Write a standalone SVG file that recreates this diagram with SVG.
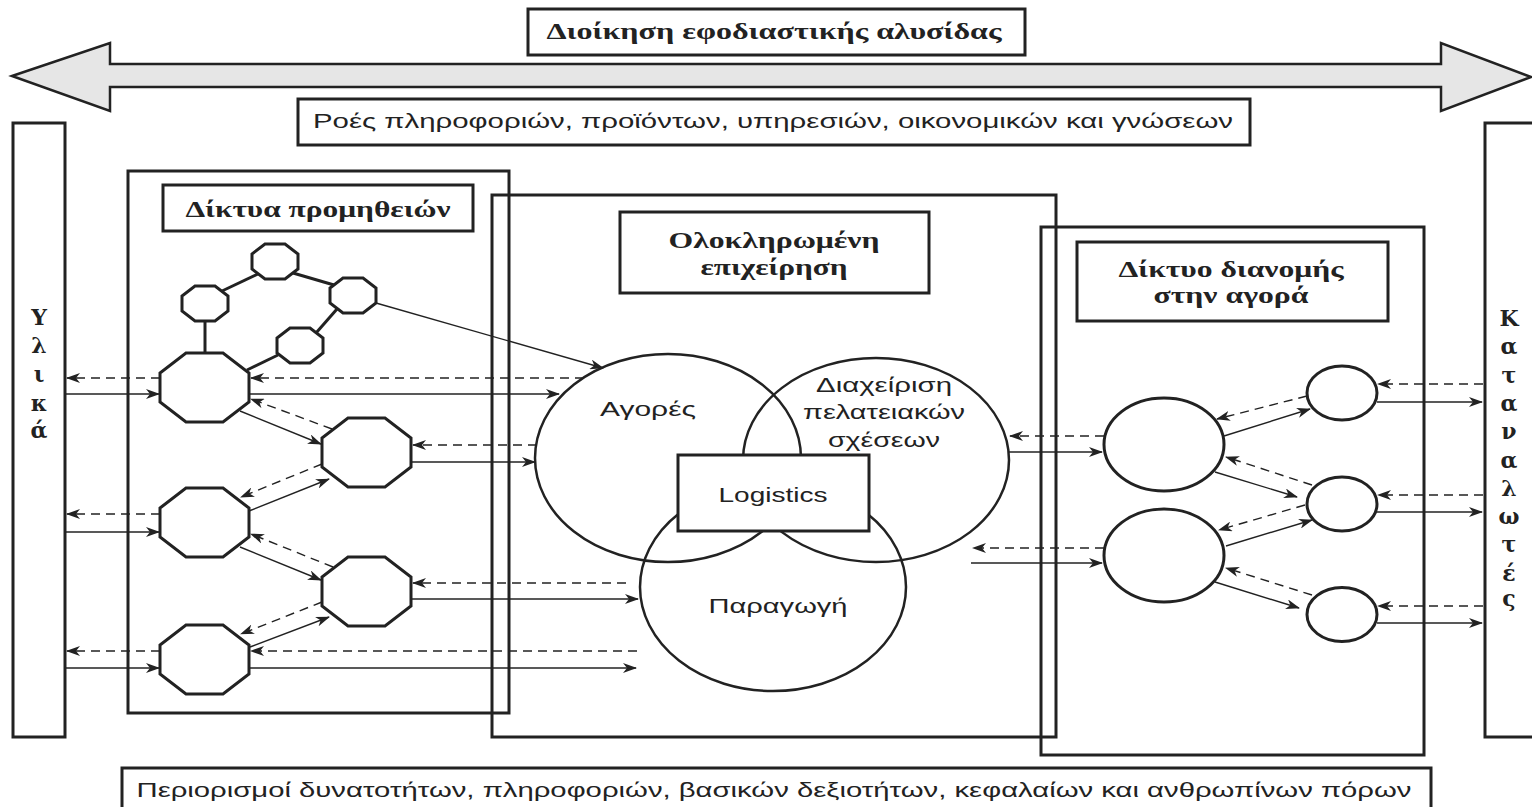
<svg xmlns="http://www.w3.org/2000/svg" width="1532" height="807" viewBox="0 0 1532 807">
  <defs>
    <style>
      .frame { fill: none; stroke: #222; stroke-width: 3; }
      .lbl { fill: #fff; stroke: #222; stroke-width: 3; }
      .node { fill: #fff; stroke: #222; stroke-width: 3; }
      .ring { fill: none; stroke: #222; stroke-width: 2.5; }
      .link { stroke: #222; stroke-width: 3; fill: none; }
      .flow { stroke: #222; stroke-width: 1.4; fill: none; marker-end: url(#ah); }
      .ret { stroke: #222; stroke-width: 1.4; fill: none; stroke-dasharray: 9 6; marker-end: url(#ah); }
      .head { font-family: "Liberation Serif", "DejaVu Serif", serif; font-weight: bold; font-size: 23px; fill: #222; text-anchor: middle; }
      .body { font-family: "Liberation Sans", "Open Sans", sans-serif; font-size: 20px; fill: #222; text-anchor: middle; }
      .vert { font-family: "DejaVu Serif", "Liberation Serif", serif; font-weight: bold; font-size: 22px; fill: #222; text-anchor: middle; }
    </style>
    <marker id="ah" viewBox="0 0 14 10" refX="13" refY="5" markerWidth="14" markerHeight="10" markerUnits="userSpaceOnUse" orient="auto">
      <path d="M0,0 L14,5 L0,10 L4,5 z" fill="#222"/>
    </marker>
  </defs>

  <rect width="1532" height="807" fill="#fff"/>

  <!-- supply chain management banner -->
  <g id="scm-title">
    <rect class="lbl" x="528" y="9" width="497" height="46"/>
    <text class="head" x="774" y="39" textLength="455" lengthAdjust="spacingAndGlyphs">Διοίκηση εφοδιαστικής αλυσίδας</text>
  </g>
  <g id="scm-arrow">
    <polygon points="12,76 110,43 110,64 1441,64 1441,43 1531,77 1441,111 1441,87 110,87 110,111" fill="#e6e6e6" stroke="#222" stroke-width="2.5" stroke-linejoin="miter"/>
  </g>
  <g id="flows-label">
    <rect class="lbl" x="298" y="99" width="952" height="46"/>
    <text class="body" x="773" y="128" textLength="920" lengthAdjust="spacingAndGlyphs">Ροές πληροφοριών, προϊόντων, υπηρεσιών, οικονομικών και γνώσεων</text>
  </g>

  <!-- side columns -->
  <g id="materials">
    <rect class="frame" x="13" y="123" width="52" height="614"/>
    <text class="vert" x="39" y="325">Υ</text>
    <text class="vert" x="39" y="353">λ</text>
    <text class="vert" x="39" y="382">ι</text>
    <text class="vert" x="39" y="411">κ</text>
    <text class="vert" x="39" y="438">ά</text>
  </g>
  <g id="consumers">
    <rect class="frame" x="1485" y="123" width="70" height="614"/>
    <text class="vert" x="1509" y="326">Κ</text>
    <text class="vert" x="1509" y="354">α</text>
    <text class="vert" x="1509" y="383">τ</text>
    <text class="vert" x="1509" y="411">α</text>
    <text class="vert" x="1509" y="439">ν</text>
    <text class="vert" x="1509" y="468">α</text>
    <text class="vert" x="1509" y="496">λ</text>
    <text class="vert" x="1509" y="524">ω</text>
    <text class="vert" x="1509" y="552">τ</text>
    <text class="vert" x="1509" y="581">έ</text>
    <text class="vert" x="1509" y="606">ς</text>
  </g>

  <!-- supplier networks -->
  <g id="supplier-network">
    <rect class="frame" x="128" y="171" width="381" height="542"/>
    <rect class="lbl" x="163" y="185" width="310" height="46"/>
    <text class="head" x="318" y="217" textLength="265" lengthAdjust="spacingAndGlyphs">Δίκτυα προμηθειών</text>
  </g>

  <!-- integrated enterprise -->
  <g id="enterprise">
    <rect class="frame" x="492" y="195" width="564" height="542"/>
    <rect class="lbl" x="620" y="212" width="309" height="81"/>
    <text class="head" x="774" y="248" textLength="211" lengthAdjust="spacingAndGlyphs">Ολοκληρωμένη</text>
    <text class="head" x="774" y="275" textLength="147" lengthAdjust="spacingAndGlyphs">επιχείρηση</text>
  </g>

  <!-- market distribution network -->
  <g id="distribution-network">
    <rect class="frame" x="1041" y="227" width="383" height="528"/>
    <rect class="lbl" x="1077" y="242" width="311" height="79"/>
    <text class="head" x="1231" y="277" textLength="225" lengthAdjust="spacingAndGlyphs">Δίκτυο διανομής</text>
    <text class="head" x="1231" y="303" textLength="155" lengthAdjust="spacingAndGlyphs">στην αγορά</text>
  </g>

  <!-- core functions -->
  <g id="markets">
    <ellipse class="ring" cx="668" cy="458" rx="133" ry="104"/>
    <text class="body" x="648" y="416" font-size="22" textLength="96" lengthAdjust="spacingAndGlyphs">Αγορές</text>
  </g>
  <g id="crm">
    <ellipse class="ring" cx="876" cy="460" rx="133" ry="102"/>
    <text class="body" x="884" y="392" textLength="136" lengthAdjust="spacingAndGlyphs">Διαχείριση</text>
    <text class="body" x="884" y="419" textLength="162" lengthAdjust="spacingAndGlyphs">πελατειακών</text>
    <text class="body" x="884" y="447" textLength="112" lengthAdjust="spacingAndGlyphs">σχέσεων</text>
  </g>
  <g id="production">
    <ellipse class="ring" cx="773" cy="587" rx="133" ry="104"/>
    <text class="body" x="778" y="613" font-size="22" textLength="139" lengthAdjust="spacingAndGlyphs">Παραγωγή</text>
  </g>
  <g id="logistics">
    <rect class="lbl" x="678" y="455" width="191" height="76"/>
    <text class="body" x="773" y="502" font-size="22" textLength="109" lengthAdjust="spacingAndGlyphs">Logistics</text>
  </g>

  <!-- supplier nodes -->
  <g id="sup-ring">
    <line class="link" x1="205" y1="321" x2="205" y2="353"/>
    <line class="link" x1="222" y1="291" x2="258" y2="274"/>
    <line class="link" x1="293" y1="273" x2="334" y2="285"/>
    <line class="link" x1="337" y1="309" x2="316" y2="333"/>
    <line class="link" x1="278" y1="355" x2="247" y2="370"/>
  </g>
  <g id="sup-a"><polygon class="node" points="195,286 215,286 228,296 228,311 215,321 195,321 182,311 182,296"/></g>
  <g id="sup-b"><polygon class="node" points="265,244 285,244 298,254 298,269 285,279 265,279 252,269 252,254"/></g>
  <g id="sup-c"><polygon class="node" points="343,278 363,278 376,288 376,303 363,313 343,313 330,303 330,288"/></g>
  <g id="sup-d"><polygon class="node" points="290,328 310,328 323,338 323,353 310,363 290,363 277,353 277,338"/></g>
  <g id="sup-l1"><polygon class="node" points="186,353 223,353 249,373 249,402 223,422 186,422 160,402 160,373"/></g>
  <g id="sup-m1"><polygon class="node" points="348,418 385,418 411,438 411,467 385,487 348,487 322,467 322,438"/></g>
  <g id="sup-l2"><polygon class="node" points="186,488 223,488 249,508 249,537 223,557 186,557 160,537 160,508"/></g>
  <g id="sup-m2"><polygon class="node" points="348,557 385,557 411,577 411,606 385,626 348,626 322,606 322,577"/></g>
  <g id="sup-l3"><polygon class="node" points="186,625 223,625 249,645 249,674 223,694 186,694 160,674 160,645"/></g>

  <!-- distribution nodes -->
  <g id="dist-d1"><ellipse class="node" cx="1164" cy="444.5" rx="60" ry="46.5" stroke-width="2.5"/></g>
  <g id="dist-d2"><ellipse class="node" cx="1164" cy="555.5" rx="60" ry="46.5" stroke-width="2.5"/></g>
  <g id="dist-s1"><ellipse class="node" cx="1342" cy="393" rx="35" ry="27" stroke-width="2.5"/></g>
  <g id="dist-s2"><ellipse class="node" cx="1342" cy="504" rx="35" ry="27" stroke-width="2.5"/></g>
  <g id="dist-s3"><ellipse class="node" cx="1342" cy="614.5" rx="35" ry="27" stroke-width="2.5"/></g>

  <!-- connectors -->
  <g id="connectors">
    <line class="flow" x1="376" y1="303" x2="603" y2="368"/>

    <line class="ret" x1="160" y1="378" x2="67" y2="378"/>
    <line class="flow" x1="66" y1="394" x2="159" y2="394"/>
    <line class="ret" x1="584" y1="378" x2="251" y2="378"/>
    <line class="flow" x1="249" y1="394" x2="559" y2="394"/>
    <line class="flow" x1="240" y1="411" x2="321" y2="444"/>
    <line class="ret" x1="332" y1="429" x2="251" y2="399"/>
    <line class="ret" x1="537" y1="445" x2="413" y2="445"/>
    <line class="flow" x1="411" y1="462" x2="535" y2="462"/>

    <line class="flow" x1="249" y1="511" x2="329" y2="479"/>
    <line class="ret" x1="322" y1="464" x2="241" y2="497"/>
    <line class="ret" x1="160" y1="514" x2="67" y2="514"/>
    <line class="flow" x1="66" y1="532" x2="159" y2="532"/>
    <line class="flow" x1="240" y1="547" x2="321" y2="580"/>
    <line class="ret" x1="333" y1="567" x2="251" y2="534"/>
    <line class="ret" x1="626" y1="583" x2="413" y2="583"/>
    <line class="flow" x1="411" y1="599" x2="638" y2="599"/>

    <line class="ret" x1="322" y1="602" x2="241" y2="634"/>
    <line class="flow" x1="250" y1="647" x2="329" y2="617"/>
    <line class="ret" x1="160" y1="651" x2="67" y2="651"/>
    <line class="flow" x1="66" y1="668" x2="159" y2="668"/>
    <line class="ret" x1="637" y1="651" x2="251" y2="651"/>
    <line class="flow" x1="249" y1="668" x2="636" y2="668"/>

    <line class="ret" x1="1483" y1="384" x2="1378" y2="384"/>
    <line class="flow" x1="1377" y1="402" x2="1482" y2="402"/>
    <line class="ret" x1="1307" y1="396" x2="1217" y2="419"/>
    <line class="flow" x1="1224" y1="436" x2="1310" y2="409"/>
    <line class="ret" x1="1104" y1="436" x2="1010" y2="436"/>
    <line class="flow" x1="1008" y1="452" x2="1102" y2="452"/>
    <line class="flow" x1="1215" y1="472" x2="1297" y2="497"/>
    <line class="ret" x1="1312" y1="485" x2="1226" y2="457"/>
    <line class="ret" x1="1483" y1="495" x2="1378" y2="495"/>
    <line class="flow" x1="1377" y1="512" x2="1482" y2="512"/>
    <line class="ret" x1="1305" y1="505" x2="1219" y2="530"/>
    <line class="flow" x1="1226" y1="546" x2="1312" y2="520"/>
    <line class="ret" x1="1104" y1="548" x2="973" y2="548"/>
    <line class="flow" x1="971" y1="563" x2="1102" y2="563"/>
    <line class="flow" x1="1215" y1="582" x2="1299" y2="608"/>
    <line class="ret" x1="1312" y1="595" x2="1226" y2="568"/>
    <line class="ret" x1="1483" y1="606" x2="1378" y2="606"/>
    <line class="flow" x1="1377" y1="623" x2="1482" y2="623"/>
  </g>

  <!-- constraints banner -->
  <g id="constraints">
    <rect class="frame" x="122" y="768" width="1309" height="60"/>
    <text class="body" x="774" y="797" font-size="21" textLength="1275" lengthAdjust="spacingAndGlyphs">Περιορισμοί δυνατοτήτων, πληροφοριών, βασικών δεξιοτήτων, κεφαλαίων και ανθρωπίνων πόρων</text>
  </g>
</svg>
